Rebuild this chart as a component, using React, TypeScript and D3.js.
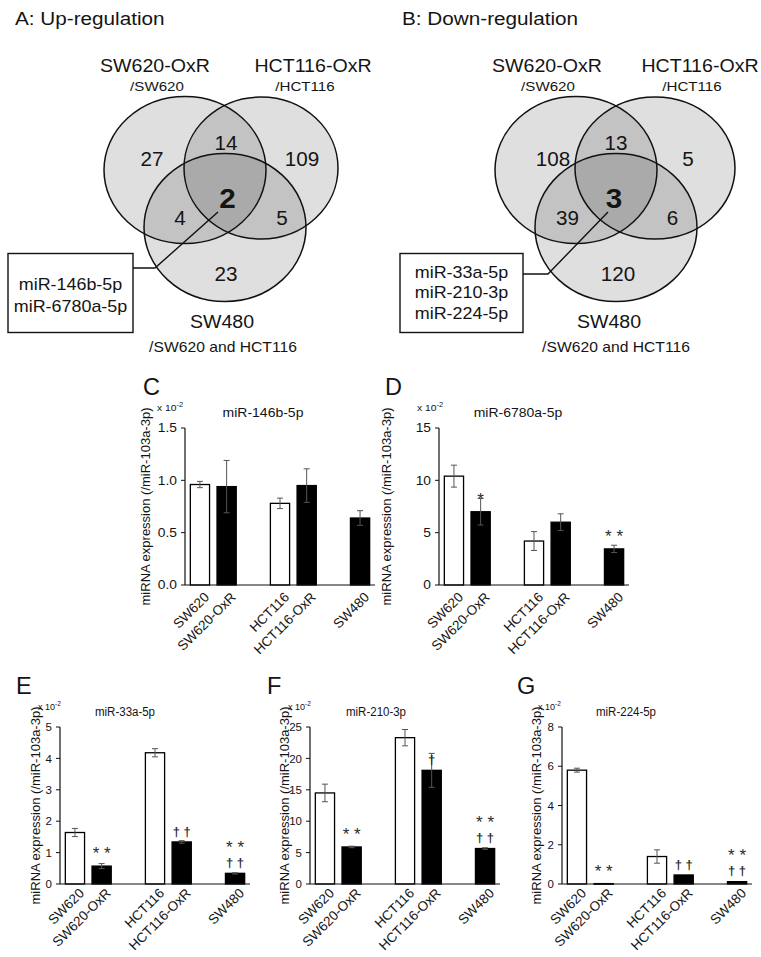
import React from "react";
import * as d3 from "d3";

const FONT = "'Liberation Sans', Arial, Helvetica, sans-serif";
const INK = "#141414";

// ---------------- Venn data ----------------
const vennSetNames = ["SW620-OxR", "HCT116-OxR", "SW480"];
const vennSetSubs = ["/SW620", "/HCT116", "/SW620 and HCT116"];
// region order: SW620 only, SW620∩HCT116, HCT116 only, all three, SW620∩SW480, HCT116∩SW480, SW480 only
const upCounts = [27, 14, 109, 2, 4, 5, 23];
const downCounts = [108, 13, 5, 3, 39, 6, 120];
const upShared = ["miR-146b-5p", "miR-6780a-5p"];
const downShared = ["miR-33a-5p", "miR-210-3p", "miR-224-5p"];

// ---------------- bar data ----------------
const cellLines = ["SW620", "SW620-OxR", "HCT116", "HCT116-OxR", "SW480"];
const resistant = [false, true, false, true, true];

const mir146bMean = [0.96, 0.94, 0.78, 0.95, 0.64];
const mir146bSd = [0.03, 0.25, 0.05, 0.16, 0.07];
const mir146bTicks = [0, 0.5, 1.0, 1.5];

const mir6780aMean = [10.4, 7.0, 4.2, 6.0, 3.45];
const mir6780aSd = [1.05, 1.27, 0.9, 0.8, 0.35];
const mir6780aTicks = [0, 5, 10, 15];
const mir6780aStars = ["", "*", "", "", "**"];

const mir33aMean = [1.64, 0.57, 4.18, 1.34, 0.34];
const mir33aSd = [0.13, 0.08, 0.13, 0.04, 0.02];
const mir33aTicks = [0, 1, 2, 3, 4, 5];
const mir33aStars = ["", "**", "", "", "**"];
const mir33aDaggers = ["", "", "", "††", "††"];

const mir210Mean = [14.5, 5.9, 23.3, 18.1, 5.65];
const mir210Sd = [1.4, 0.12, 1.3, 2.7, 0.12];
const mir210Ticks = [0, 5, 10, 15, 20, 25];
const mir210Stars = ["", "**", "", "", "**"];
const mir210Daggers = ["", "", "", "†", "††"];

const mir224Mean = [5.8, 0.02, 1.4, 0.46, 0.12];
const mir224Sd = [0.1, 0, 0.34, 0, 0];
const mir224Ticks = [0, 2, 4, 6, 8];
const mir224Stars = ["", "**", "", "", "**"];
const mir224Daggers = ["", "", "", "††", "††"];

const noMarks = ["", "", "", "", ""];

// ---------------- helpers ----------------
function SText(props: any) {
  const { x, y, sx = 1, rot = 0, anchor = "start", size, weight = "normal", fill = INK, children, ls, family } = props;
  const t =
    `translate(${x},${y})` + (sx !== 1 ? ` scale(${sx},1)` : "") + (rot ? ` rotate(${rot})` : "");
  return (
    <text
      transform={t}
      textAnchor={anchor}
      fontSize={size}
      fontWeight={weight}
      fill={fill}
      letterSpacing={ls}
      fontFamily={family}
    >
      {children}
    </text>
  );
}

type VennCfg = {
  title: string;
  titleX: number;
  ellipses: number[][];
  countPos: number[][];
  namePos: number[][];
  subPos: number[][];
  box: number[];
  lineY: number[];
  leader: number[][];
};

const vennA: VennCfg = {
  title: "A: Up-regulation",
  titleX: 15,
  ellipses: [
    [185, 170, 81, 73.5],
    [261, 168, 77, 71],
    [225, 227.5, 81, 74],
  ],
  countPos: [
    [152, 159],
    [226, 143],
    [302, 159],
    [227.5, 198],
    [180, 218],
    [282, 218],
    [226, 274],
  ],
  namePos: [
    [155, 71.5],
    [313, 71.5],
    [222, 328],
  ],
  subPos: [
    [157, 91],
    [305, 91],
    [223, 352],
  ],
  box: [8, 253.5, 125, 79],
  lineY: [290, 312],
  leader: [
    [133, 268],
    [155, 268],
    [218, 212],
  ],
};

const vennB: VennCfg = {
  title: "B: Down-regulation",
  titleX: 402,
  ellipses: [
    [576, 170, 81, 73.5],
    [655, 168, 80, 71],
    [616, 227.5, 81, 74],
  ],
  countPos: [
    [553, 159],
    [616, 143],
    [688, 159],
    [614, 198],
    [567.5, 218],
    [672.5, 218],
    [618, 274],
  ],
  namePos: [
    [547, 71.5],
    [700, 71.5],
    [609, 328],
  ],
  subPos: [
    [548, 91],
    [692, 91],
    [616, 352],
  ],
  box: [400, 253.5, 123, 79],
  lineY: [277.5, 298, 318.5],
  leader: [
    [523, 274],
    [548, 274],
    [608, 212],
  ],
};

function Venn({ cfg, counts, mirs }: { cfg: VennCfg; counts: number[]; mirs: string[] }) {
  const line = d3.line();
  const [bx, by, bw, bh] = cfg.box;
  return (
    <g>
      <SText x={cfg.titleX} y={25} size={18.5} sx={1.12}>
        {cfg.title}
      </SText>
      {cfg.ellipses.map(([cx, cy, rx, ry], i) => (
        <ellipse key={"f" + i} cx={cx} cy={cy} rx={rx} ry={ry} fill="#000" fillOpacity={0.125} />
      ))}
      {cfg.ellipses.map(([cx, cy, rx, ry], i) => (
        <ellipse key={"s" + i} cx={cx} cy={cy} rx={rx} ry={ry} fill="none" stroke="#111" strokeWidth={1.5} />
      ))}
      <path d={line(cfg.leader as [number, number][]) || ""} fill="none" stroke="#111" strokeWidth={1.4} />
      {counts.map((c, i) => (
        <SText
          key={"c" + i}
          x={cfg.countPos[i][0]}
          y={cfg.countPos[i][1] + (i === 3 ? 10 : 7)}
          anchor="middle"
          size={i === 3 ? 28 : 19.5}
          weight={i === 3 ? "bold" : "normal"}
          sx={1.06}
        >
          {c}
        </SText>
      ))}
      {vennSetNames.map((n, i) => (
        <SText key={"n" + i} x={cfg.namePos[i][0]} y={cfg.namePos[i][1]} anchor="middle" size={17.5} sx={1.12}>
          {n}
        </SText>
      ))}
      {vennSetSubs.map((n, i) => (
        <SText key={"u" + i} x={cfg.subPos[i][0]} y={cfg.subPos[i][1]} anchor="middle" size={i === 2 ? 14 : 13.5} sx={1.12}>
          {n}
        </SText>
      ))}
      <rect x={bx} y={by} width={bw} height={bh} fill="#fff" stroke="#111" strokeWidth={1.4} />
      {mirs.map((m, i) => (
        <SText key={"m" + i} x={bx + bw / 2} y={cfg.lineY[i]} anchor="middle" size={16} sx={1.12}>
          {m}
        </SText>
      ))}
    </g>
  );
}

type Panel = {
  letter: string;
  title: string;
  mean: number[];
  sd: number[];
  ticks: number[];
  fmt: string;
  stars: string[];
  daggers: string[];
  x0: number;
  y0: number;
  letterX: number;
  titleDx: number;
  ylabX: number;
  expX: number;
  sx: number;
  labDy: number;
  tickSize: number;
};

const slotOf = [0, 1, 3, 4, 6];
const PLOT_W = 190;
const PLOT_H = 157;

function BarChart({ p }: { p: Panel }) {
  const x = d3
    .scaleBand<number>()
    .domain(d3.range(7))
    .range([p.x0, p.x0 + PLOT_W])
    .paddingInner(0.28)
    .paddingOuter(0.2);
  const max = p.ticks[p.ticks.length - 1];
  const y = d3.scaleLinear().domain([0, max]).range([p.y0, p.y0 - PLOT_H]);
  const bw = x.bandwidth();
  const fmt = d3.format(p.fmt);
  const topY = p.y0 - PLOT_H;
  const expY = topY - 17.5;
  return (
    <g>
      <SText x={p.letterX} y={topY - 33} size={23.5}>
        {p.letter}
      </SText>
      <text transform={`translate(${p.expX},${expY})${p.sx !== 1 ? ` scale(${p.sx},1)` : ""}`} fontSize={9} fill={INK}>
        x 10
        <tspan fontSize={6.5} dy={-3.5}>
          -2
        </tspan>
      </text>
      <SText x={p.x0 + p.titleDx} y={topY - 11} anchor="middle" size={12.5} sx={p.sx === 1 ? 0.92 : 1.12}>
        {p.title}
      </SText>
      <SText x={p.ylabX} y={p.y0 - PLOT_H / 2} rot={-90} anchor="middle" size={13}>
        <tspan dy={4}>miRNA expression (/miR-103a-3p)</tspan>
      </SText>
      {/* bars */}
      {p.mean.map((m, i) => {
        const bx = x(slotOf[i])!;
        const yt = y(m);
        return (
          <rect
            key={"b" + i}
            x={bx}
            y={yt}
            width={bw}
            height={Math.max(p.y0 - yt, 0.6)}
            fill={resistant[i] ? "#000" : "#fff"}
            stroke="#000"
            strokeWidth={1.3}
          />
        );
      })}
      {/* error bars */}
      {p.mean.map((m, i) => {
        if (!p.sd[i]) return null;
        const cx = x(slotOf[i])! + bw / 2;
        const y1 = y(m + p.sd[i]);
        const y2 = y(Math.max(m - p.sd[i], 0));
        return (
          <g key={"e" + i} stroke="#555" strokeWidth={1}>
            <line x1={cx} x2={cx} y1={y1} y2={y2} />
            <line x1={cx - 3} x2={cx + 3} y1={y1} y2={y1} />
            <line x1={cx - 3} x2={cx + 3} y1={y2} y2={y2} />
          </g>
        );
      })}
      {/* axes */}
      <line x1={p.x0} x2={p.x0} y1={p.y0} y2={topY} stroke="#111" strokeWidth={1.2} />
      <line x1={p.x0} x2={p.x0 + PLOT_W} y1={p.y0} y2={p.y0} stroke="#111" strokeWidth={1.2} />
      {p.ticks.map((t, i) => (
        <g key={"t" + i}>
          <line x1={p.x0 - 4} x2={p.x0} y1={y(t)} y2={y(t)} stroke="#111" strokeWidth={1} />
          <SText x={p.x0 - 8} y={y(t) + 4.2} anchor="end" size={p.tickSize} sx={p.sx}>
            {fmt(t)}
          </SText>
        </g>
      ))}
      {/* x labels */}
      {cellLines.map((c, i) => {
        const cx = x(slotOf[i])! + bw / 2;
        return (
          <SText key={"x" + i} x={cx + 10} y={p.y0 + p.labDy} rot={-45} anchor="end" size={13.5}>
            {c}
          </SText>
        );
      })}
      {/* significance marks */}
      <g opacity={0.99}>
        {p.mean.map((m, i) => {
          const cx = x(slotOf[i])! + bw / 2;
          const yt = y(m);
          const hasD = !!p.daggers[i];
          const out = [];
          if (hasD)
            out.push(
              <SText key={"d" + i} x={cx} y={yt - 6.3} anchor="middle" size={13} weight="bold" fill="#2a2a2a">
                {p.daggers[i].split("").join(" ")}
              </SText>
            );
          if (p.stars[i])
            out.push(
              <SText key={"s" + i} x={cx} y={hasD ? yt - 20.5 : yt - 6.7} anchor="middle" size={17} fill="#2a2a2a">
                {p.stars[i].split("").join(" ")}
              </SText>
            );
          return out;
        })}
      </g>
    </g>
  );
}

const panels: Panel[] = [
  {
    letter: "C", title: "miR-146b-5p", mean: mir146bMean, sd: mir146bSd, ticks: mir146bTicks, fmt: ".1f",
    stars: noMarks, daggers: noMarks, x0: 185, y0: 585, letterX: 143, titleDx: 78, ylabX: 146, expX: 157, sx: 1.15, labDy: 13, tickSize: 12,
  },
  {
    letter: "D", title: "miR-6780a-5p", mean: mir6780aMean, sd: mir6780aSd, ticks: mir6780aTicks, fmt: "d",
    stars: mir6780aStars, daggers: noMarks, x0: 439, y0: 585, letterX: 385, titleDx: 79, ylabX: 387, expX: 417, sx: 1.15, labDy: 13, tickSize: 12,
  },
  {
    letter: "E", title: "miR-33a-5p", mean: mir33aMean, sd: mir33aSd, ticks: mir33aTicks, fmt: "d",
    stars: mir33aStars, daggers: mir33aDaggers, x0: 60, y0: 884, letterX: 16, titleDx: 65, ylabX: 36, expX: 38, sx: 1, labDy: 10, tickSize: 11.5,
  },
  {
    letter: "F", title: "miR-210-3p", mean: mir210Mean, sd: mir210Sd, ticks: mir210Ticks, fmt: "d",
    stars: mir210Stars, daggers: mir210Daggers, x0: 310, y0: 884, letterX: 267, titleDx: 66, ylabX: 285, expX: 288, sx: 1, labDy: 10, tickSize: 11.5,
  },
  {
    letter: "G", title: "miR-224-5p", mean: mir224Mean, sd: mir224Sd, ticks: mir224Ticks, fmt: "d",
    stars: mir224Stars, daggers: mir224Daggers, x0: 562, y0: 884, letterX: 517, titleDx: 64, ylabX: 537, expX: 538, sx: 1, labDy: 10, tickSize: 11.5,
  },
];

export default function App() {
  return (
    <svg
      width={761}
      height={957}
      viewBox="0 0 761 957"
      style={{ position: "absolute", left: 0, top: 0, background: "#fff", fontFamily: FONT }}
    >
      <rect x={0} y={0} width={761} height={957} fill="#fff" />
      <Venn cfg={vennA} counts={upCounts} mirs={upShared} />
      <Venn cfg={vennB} counts={downCounts} mirs={downShared} />
      {panels.map((p) => (
        <BarChart key={p.letter} p={p} />
      ))}
    </svg>
  );
}
